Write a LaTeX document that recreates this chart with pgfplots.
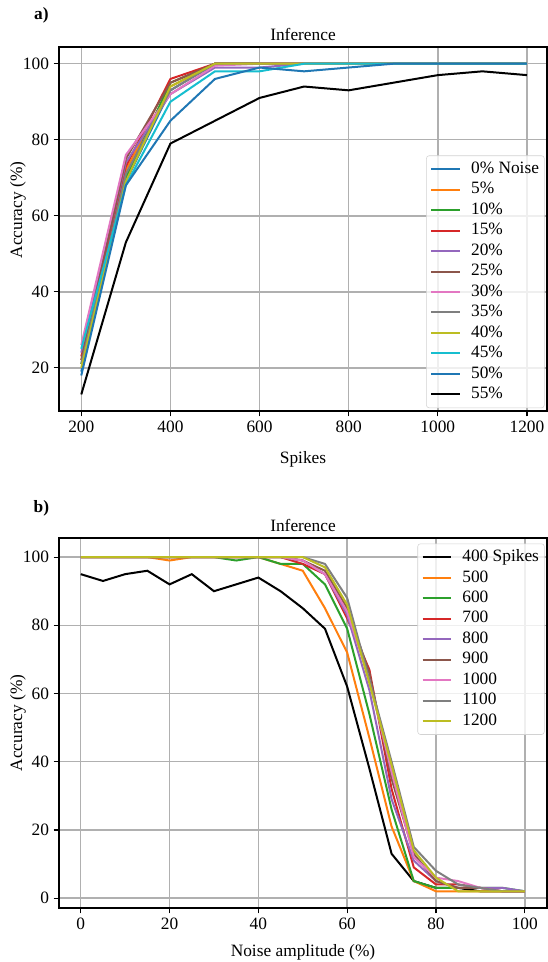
\documentclass[border=0pt]{standalone}
\usepackage{fontspec}
\setmainfont{Liberation Serif}
\usepackage{pgfplots}
\pgfplotsset{compat=1.18}
\definecolor{tabblue}{HTML}{1F77B4}
\definecolor{taborange}{HTML}{FF7F0E}
\definecolor{tabgreen}{HTML}{2CA02C}
\definecolor{tabred}{HTML}{D62728}
\definecolor{tabpurple}{HTML}{9467BD}
\definecolor{tabbrown}{HTML}{8C564B}
\definecolor{tabpink}{HTML}{E377C2}
\definecolor{tabgray}{HTML}{7F7F7F}
\definecolor{tabolive}{HTML}{BCBD22}
\definecolor{tabcyan}{HTML}{17BECF}
\definecolor{gridgray}{HTML}{B0B0B0}
\pgfplotsset{
  myaxis/.style={
    scale only axis,
    width=366pt,
    font=\fontsize{13}{15}\selectfont,
    /pgf/number format/assume math mode=true,
    /pgf/number format/1000 sep={},
    grid=major,
    major grid style={gridgray, line width=1.1pt},
    axis line style={line width=1pt},
    tick style={black, line width=0.9pt},
    tick align=outside,
    major tick length=4pt,
    xtick pos=bottom, ytick pos=left,
    title style={at={(axis description cs:0.5,1)}, anchor=south, yshift=-4.5pt},
    legend cell align=left,
    legend style={draw=gray!35, rounded corners=2pt, fill=white, fill opacity=0.8, text opacity=1,
      font=\fontsize{13}{15}\selectfont, row sep=1.15pt, inner sep=3pt,
      nodes={inner sep=1pt, text height=9.3pt, text depth=2.9pt},
      /tikz/every odd column/.append style={column sep=6.5pt}},
    legend image code/.code={\draw[##1] (0pt,0pt) -- (21.5pt,0pt);},
    every axis plot/.append style={line width=1.5pt, no marks},
  }
}
\begin{document}
\begin{tikzpicture}
\path[use as bounding box] (0,0) rectangle (411pt,-721.5pt);
\node[font=\fontsize{13}{15}\selectfont\bfseries] at (31pt,-11.5pt) {a)};
\node[font=\fontsize{13}{15}\selectfont\bfseries] at (31pt,-381.5pt) {b)};
\begin{axis}[myaxis,
  at={(44.25pt,-35.25pt)}, anchor=north west,
  height=273pt,
  xmin=150, xmax=1245, ymin=8.65, ymax=104.4,
  xtick={200,400,...,1200}, ytick={20,40,...,100},
  title={Inference}, xlabel={Spikes}, ylabel={Accuracy (\%)},
  xlabel style={at={(axis description cs:0.5,0)}, anchor=center, yshift=-36.5pt},
  ylabel style={at={(axis description cs:-0.084,0.552)}, anchor=center},
  legend style={at={(rel axis cs:0.995,0.008)}, anchor=south east},
]
\addplot[tabblue] coordinates {(200,19)(300,69)(400,93)(500,100)(600,100)(700,100)(800,100)(900,100)(1000,100)(1100,100)(1200,100)};
\addlegendentry{0\% Noise}
\addplot[taborange] coordinates {(200,22)(300,72)(400,94)(500,100)(600,100)(700,100)(800,100)(900,100)(1000,100)(1100,100)(1200,100)};
\addlegendentry{5\%}
\addplot[tabgreen] coordinates {(200,21)(300,70)(400,95)(500,100)(600,100)(700,100)(800,100)(900,100)(1000,100)(1100,100)(1200,100)};
\addlegendentry{10\%}
\addplot[tabred] coordinates {(200,23)(300,73)(400,96)(500,100)(600,100)(700,100)(800,100)(900,100)(1000,100)(1100,100)(1200,100)};
\addlegendentry{15\%}
\addplot[tabpurple] coordinates {(200,24)(300,74)(400,92)(500,99)(600,99)(700,100)(800,100)(900,100)(1000,100)(1100,100)(1200,100)};
\addlegendentry{20\%}
\addplot[tabbrown] coordinates {(200,22)(300,75)(400,95)(500,100)(600,100)(700,100)(800,100)(900,100)(1000,100)(1100,100)(1200,100)};
\addlegendentry{25\%}
\addplot[tabpink] coordinates {(200,26)(300,76)(400,92)(500,99.5)(600,100)(700,100)(800,100)(900,100)(1000,100)(1100,100)(1200,100)};
\addlegendentry{30\%}
\addplot[tabgray] coordinates {(200,21)(300,71)(400,93)(500,100)(600,100)(700,100)(800,100)(900,100)(1000,100)(1100,100)(1200,100)};
\addlegendentry{35\%}
\addplot[tabolive] coordinates {(200,20)(300,69)(400,94)(500,100)(600,100)(700,100)(800,100)(900,100)(1000,100)(1100,100)(1200,100)};
\addlegendentry{40\%}
\addplot[tabcyan] coordinates {(200,25)(300,68)(400,90)(500,98)(600,98)(700,100)(800,100)(900,100)(1000,100)(1100,100)(1200,100)};
\addlegendentry{45\%}
\addplot[tabblue] coordinates {(200,18)(300,68)(400,85)(500,96)(600,99)(700,98)(800,99)(900,100)(1000,100)(1100,100)(1200,100)};
\addlegendentry{50\%}
\addplot[black] coordinates {(200,13)(300,53)(400,79)(500,85)(600,91)(700,94)(800,93)(900,95)(1000,97)(1100,98)(1200,97)};
\addlegendentry{55\%}
\end{axis}
\begin{axis}[myaxis,
  at={(44.25pt,-403.5pt)}, anchor=north west,
  height=277.5pt,
  xmin=-4.9, xmax=105, ymin=-2.9, ymax=105.6,
  xtick={0,20,...,100}, ytick={0,20,...,100},
  title={Inference}, xlabel={Noise amplitude (\%)}, ylabel={Accuracy (\%)},
  xlabel style={at={(axis description cs:0.5,0)}, anchor=center, yshift=-33pt},
  ylabel style={at={(axis description cs:-0.084,0.5)}, anchor=center},
  legend style={at={(rel axis cs:0.995,0.985)}, anchor=north east},
]
\addplot[black] coordinates {(0,95)(5,93)(10,95)(15,96)(20,92)(25,95)(30,90)(35,92)(40,94)(45,90)(50,85)(55,79)(60,62)(65,38)(70,13)(75,5)(80,3)(85,3)(90,2)(95,2)(100,2)};
\addlegendentry{400 Spikes}
\addplot[taborange] coordinates {(0,100)(5,100)(10,100)(15,100)(20,99)(25,100)(30,100)(35,100)(40,100)(45,98)(50,96)(55,85)(60,72)(65,47)(70,21)(75,5)(80,2)(85,2)(90,2)(95,2)(100,2)};
\addlegendentry{500}
\addplot[tabgreen] coordinates {(0,100)(5,100)(10,100)(15,100)(20,100)(25,100)(30,100)(35,99)(40,100)(45,98)(50,98)(55,92)(60,79)(65,54)(70,26)(75,5)(80,3)(85,3)(90,3)(95,3)(100,2)};
\addlegendentry{600}
\addplot[tabred] coordinates {(0,100)(5,100)(10,100)(15,100)(20,100)(25,100)(30,100)(35,100)(40,100)(45,100)(50,98)(55,95)(60,82)(65,67)(70,32)(75,9)(80,4)(85,4)(90,3)(95,2)(100,2)};
\addlegendentry{700}
\addplot[tabpurple] coordinates {(0,100)(5,100)(10,100)(15,100)(20,100)(25,100)(30,100)(35,100)(40,100)(45,100)(50,99)(55,95)(60,83)(65,61)(70,29)(75,11)(80,5)(85,3)(90,3)(95,3)(100,2)};
\addlegendentry{800}
\addplot[tabbrown] coordinates {(0,100)(5,100)(10,100)(15,100)(20,100)(25,100)(30,100)(35,100)(40,100)(45,100)(50,99)(55,96)(60,85)(65,66)(70,35)(75,13)(80,5)(85,3)(90,3)(95,2)(100,2)};
\addlegendentry{900}
\addplot[tabpink] coordinates {(0,100)(5,100)(10,100)(15,100)(20,100)(25,100)(30,100)(35,100)(40,100)(45,100)(50,99)(55,95)(60,84)(65,64)(70,37)(75,12)(80,6)(85,5)(90,3)(95,2)(100,2)};
\addlegendentry{1000}
\addplot[tabgray] coordinates {(0,100)(5,100)(10,100)(15,100)(20,100)(25,100)(30,100)(35,100)(40,100)(45,100)(50,100)(55,98)(60,88)(65,64)(70,40)(75,15)(80,8)(85,4)(90,3)(95,2)(100,2)};
\addlegendentry{1100}
\addplot[tabolive] coordinates {(0,100)(5,100)(10,100)(15,100)(20,100)(25,100)(30,100)(35,100)(40,100)(45,100)(50,100)(55,97)(60,86)(65,63)(70,39)(75,14)(80,6)(85,2)(90,2)(95,2)(100,2)};
\addlegendentry{1200}
\end{axis}
\end{tikzpicture}
\end{document}
